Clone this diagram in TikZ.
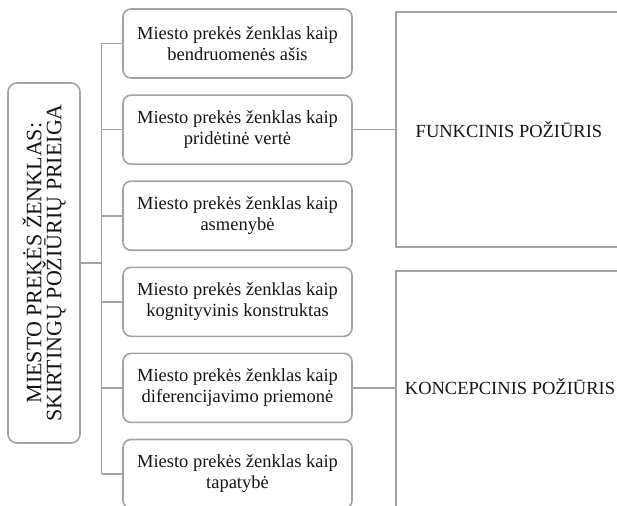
\documentclass[tikz,border=0pt]{standalone}
\usepackage{fontspec}
\setmainfont{Liberation Serif}
\definecolor{linegray}{HTML}{A2A2A2}
\definecolor{inkblack}{HTML}{151515}
\begin{document}
\begin{tikzpicture}[x=1pt,y=-1pt,
  line width=1.6pt,
  conn/.style={draw=linegray},
  rootbox/.style={draw=linegray, rounded corners=9pt, rotate=90,
    minimum width=360pt, minimum height=72pt, inner sep=0pt,
    align=center, text=inkblack,
    font=\fontsize{22pt}{20pt}\selectfont},
  itembox/.style={draw=linegray, rounded corners=8pt,
    minimum width=229pt, minimum height=69pt, inner sep=0pt,
    align=center, text=inkblack,
    font=\fontsize{18.5pt}{21pt}\selectfont},
  groupbox/.style={draw=linegray, rectangle, inner sep=0pt},
  grouptext/.style={text=inkblack, inner sep=0pt,
    font=\fontsize{18.5pt}{21pt}\selectfont}]
\useasboundingbox (0,0) rectangle (617,505);
\clip (0,0) rectangle (617,505);

% root node
\node[rootbox] (root) at (44,263)
  {MIESTO PREKĖS ŽENKLAS:\\SKIRTINGŲ POŽIŪRIŲ PRIEIGA};

% the six approaches
\node[itembox] (m1) at (237.5,43.5)  {Miesto prekės ženklas kaip\\bendruomenės ašis};
\node[itembox] (m2) at (237.5,129.6) {Miesto prekės ženklas kaip\\pridėtinė vertė};
\node[itembox] (m3) at (237.5,215.7) {Miesto prekės ženklas kaip\\asmenybė};
\node[itembox] (m4) at (237.5,301.8) {Miesto prekės ženklas kaip\\kognityvinis konstruktas};
\node[itembox] (m5) at (237.5,387.9) {Miesto prekės ženklas kaip\\diferencijavimo priemonė};
\node[itembox] (m6) at (237.5,474)   {Miesto prekės ženklas kaip\\tapatybė};

% the two groups
\node[groupbox, minimum width=226pt, minimum height=235pt, grouptext]
  (func) at (509,129.5) {FUNKCINIS POŽIŪRIS};
\node[groupbox, minimum width=226pt, minimum height=240pt]
  (conc) at (509,391) {};
\node[grouptext] (conctext) at (510,387) {KONCEPCINIS POŽIŪRIS};

% tree connectors
\coordinate (trunk) at (101.5,0);
\draw[conn] (root.south) -- (root.south -| trunk);
\draw[conn] (m1.west -| trunk) -- (m6.west -| trunk);
\foreach \i in {1,...,6}
  \draw[conn] (m\i.west -| trunk) -- (m\i.west);

% links to the groups
\draw[conn] (m2.east) -- (m2.east -| func.west);
\draw[conn] (m5.east) -- (m5.east -| conc.west);
\end{tikzpicture}
\end{document}
